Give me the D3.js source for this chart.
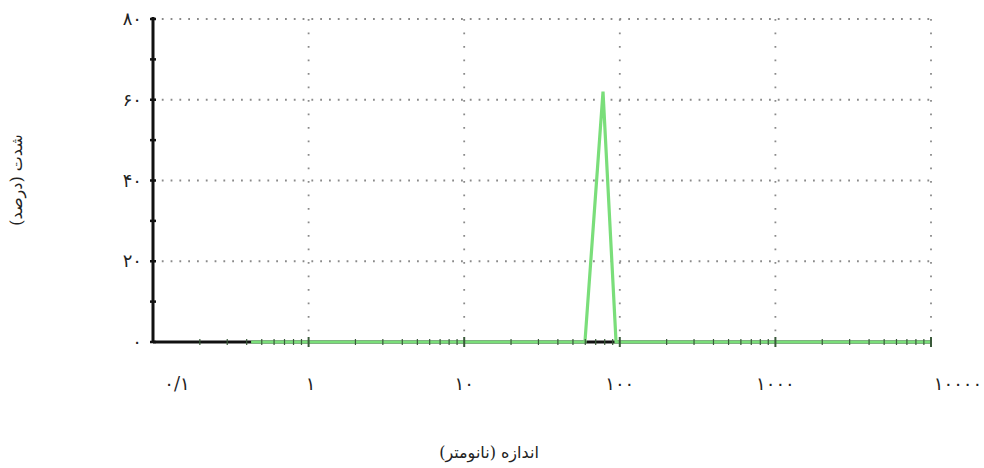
<!DOCTYPE html>
<html>
<head>
<meta charset="utf-8">
<script src="https://cdn.jsdelivr.net/npm/d3@7"></script>
<style>
  body { margin: 0; background: #fff; }
  text { font-family: "DejaVu Serif", "DejaVu Sans", serif; fill: #222; }
</style>
</head>
<body>
<svg width="984" height="468"></svg>
<script>
// size (nm) vs intensity (%)
var sizes = [0.427, 59.7, 78, 94.6, 10000];
var intensity = [0, 0, 62, 0, 0];
var xTicks = [0.1, 1, 10, 100, 1000, 10000];
var xTickLabels = ["۰/۱", "۱", "۱۰", "۱۰۰", "۱۰۰۰", "۱۰۰۰۰"];
var yTicks = [0, 20, 40, 60, 80];
var yTickLabels = ["۰", "۲۰", "۴۰", "۶۰", "۸۰"];
var yMinor = [10, 30, 50, 70];
var xTitle = "اندازه (نانومتر)";
var yTitle = "شدت (درصد)";

var svg = d3.select("svg");

var x = d3.scaleLog().domain([0.1, 10000]).range([153, 931]);
var y = d3.scaleLinear().domain([0, 80]).range([342, 19]);

// grid
svg.selectAll(".hgrid")
  .data(yTicks.slice(1))
  .enter().append("line")
  .attr("x1", x(0.1)).attr("x2", x(10000))
  .attr("y1", function (d) { return y(d); })
  .attr("y2", function (d) { return y(d); })
  .attr("stroke", "#8a8a8a")
  .attr("stroke-width", 1.8)
  .attr("stroke-dasharray", "1.8,7");

svg.selectAll(".vgrid")
  .data(xTicks.slice(1))
  .enter().append("line")
  .attr("x1", function (d) { return x(d); })
  .attr("x2", function (d) { return x(d); })
  .attr("y1", y(80)).attr("y2", y(0))
  .attr("stroke", "#8a8a8a")
  .attr("stroke-width", 1.8)
  .attr("stroke-dasharray", "1.8,11.7");

// x axis baseline
svg.append("line")
  .attr("x1", x(0.1)).attr("x2", x(10000))
  .attr("y1", y(0)).attr("y2", y(0))
  .attr("stroke", "#111")
  .attr("stroke-width", 3);

// y axis
svg.append("line")
  .attr("x1", x(0.1)).attr("x2", x(0.1))
  .attr("y1", y(80) - 2).attr("y2", y(0))
  .attr("stroke", "#111")
  .attr("stroke-width", 3);

svg.selectAll(".ymajor")
  .data(yTicks.concat(yMinor))
  .enter().append("line")
  .attr("x1", x(0.1) - 3).attr("x2", x(0.1) + 3)
  .attr("y1", function (d) { return y(d); })
  .attr("y2", function (d) { return y(d); })
  .attr("stroke", "#111")
  .attr("stroke-width", 2.5);

// data line
var line = d3.line()
  .x(function (d, i) { return x(sizes[i]); })
  .y(function (d) { return y(d); });

svg.append("path")
  .datum(intensity)
  .attr("d", line)
  .attr("fill", "none")
  .attr("stroke", "#7ade7a")
  .attr("stroke-width", 3.2)
  .attr("stroke-linejoin", "miter");

// minor ticks on log axis
var minor = [];
xTicks.slice(0, -1).forEach(function (t) {
  for (var k = 2; k <= 9; k++) minor.push(t * k);
});
svg.selectAll(".xminor")
  .data(minor)
  .enter().append("line")
  .attr("x1", function (d) { return x(d); })
  .attr("x2", function (d) { return x(d); })
  .attr("y1", y(0) - 3).attr("y2", y(0) + 3)
  .attr("stroke", "#3a5a3a")
  .attr("stroke-width", 1.2);

svg.selectAll(".xmajor")
  .data(xTicks.slice(1))
  .enter().append("line")
  .attr("x1", function (d) { return x(d); })
  .attr("x2", function (d) { return x(d); })
  .attr("y1", y(0) - 5).attr("y2", y(0) + 5)
  .attr("stroke", "#3a5a3a")
  .attr("stroke-width", 2);

// tick labels
var xLabelShift = [24, 2, 0, 0, 0, 27];
svg.selectAll(".xlab")
  .data(xTicks)
  .enter().append("text")
  .attr("x", function (d, i) { return x(d) + xLabelShift[i]; })
  .attr("y", 390)
  .attr("text-anchor", "middle")
  .attr("font-size", 18)
  .text(function (d, i) { return xTickLabels[i]; });

svg.selectAll(".ylab")
  .data(yTicks)
  .enter().append("text")
  .attr("x", 142)
  .attr("y", function (d) { return y(d) + 6; })
  .attr("text-anchor", "end")
  .attr("font-size", 18)
  .text(function (d, i) { return yTickLabels[i]; });

// titles
svg.append("text")
  .attr("x", 489)
  .attr("y", 458)
  .attr("text-anchor", "middle")
  .attr("font-size", 16)
  .text(xTitle);

svg.append("text")
  .attr("transform", "translate(22,180) rotate(-90)")
  .attr("text-anchor", "middle")
  .attr("font-size", 16)
  .text(yTitle);
</script>
</body>
</html>
